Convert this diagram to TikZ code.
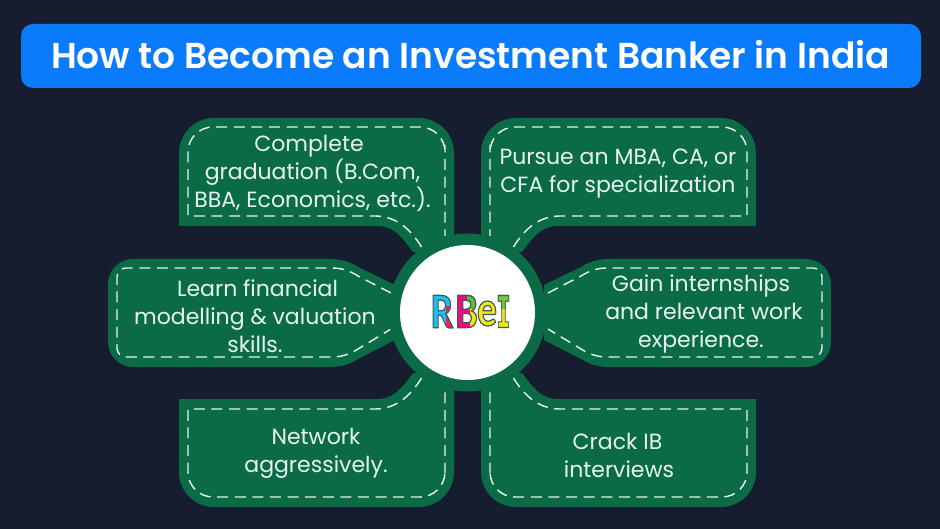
\documentclass[tikz,border=0pt]{standalone}
\usepackage{fontspec}
\setmainfont{Poppins}
\newfontface\titleface{Poppins SemiBold}
\newfontface\logoface{Carlito Bold}[FakeBold=2.5]
\newfontface\logoserif{DejaVu Sans Mono Bold}[FakeBold=2.5]
\definecolor{bgc}{HTML}{161D2F}
\definecolor{titlec}{HTML}{0A7BFA}
\definecolor{greenc}{HTML}{0B6B47}
\definecolor{mint}{HTML}{E6F5EE}
\tikzset{
  x=1pt,y=-1pt,
  blob/.style={fill=greenc,draw=none},
  stitch/.style={draw=mint,line width=1.4pt,dash pattern=on 11pt off 6.6pt},
  label/.style={text=mint,font=\fontsize{22}{28}\selectfont,align=center,inner sep=0pt},
  logotext/.style={font=\logoface\fontsize{50}{50}\selectfont,inner sep=0pt,xscale=.8,transform shape},
  logoserif/.style={font=\logoserif\fontsize{44}{44}\selectfont,inner sep=0pt,xscale=.55,transform shape},
}
% outlined letter: fill colour (rgb), dark stroke
\newcommand{\Glyph}[2]{\special{pdf:bcolor [#1] [0.25 0.35 0.33]}#2\special{pdf:ecolor}}
\newcommand{\TopShape}{%
  \path[blob,rounded corners=35pt] (179,226) [sharp corners] -- (179,190) [rounded corners=35pt] -- (179,118) -- (454,118) -- (454,190) [sharp corners] -- (454,252) -- (413,252) .. controls (400,234) and (392,226) .. (377,226) -- cycle;
  \path[stitch] (421.5,247) .. controls (410,228) and (395,216) .. (375,216) -- (188,216) -- (188,170) [rounded corners=25pt] -- (188,127) -- (445,127) -- (445,170) [sharp corners] -- (445,236);
}
\newcommand{\BottomShape}{%
  \path[blob] (179,399) -- (377,399) .. controls (392,399) and (400,391) .. (413,373) -- (454,373) -- (454,440) [rounded corners=35pt] -- (454,507) -- (179,507) -- (179,440) [sharp corners] -- cycle;
  \path[stitch] (421.5,378) .. controls (410,397) and (395,409) .. (375,409) -- (188,409) -- (188,450) [rounded corners=25pt] -- (188,497) -- (445,497) -- (445,450) [sharp corners] -- (445,390);
}
\newcommand{\MidShape}{%
  \path[blob] (395,285) -- (358,267) .. controls (350,262) and (342,259) .. (330,259) -- (180,259) [rounded corners=25pt] -- (108,259) -- (108,367) -- (180,367) [sharp corners] -- (330,367) .. controls (342,367) and (350,364) .. (358,359) -- (395,340) -- cycle;
  \path[stitch] (391,293) -- (358,276) .. controls (350,271) and (342,268) .. (332,268) -- (180,268) [rounded corners=9pt] -- (117,268) -- (117,357) -- (180,357) [sharp corners] -- (332,357) .. controls (342,357) and (350,354) .. (358,349) -- (391,329);
}
\begin{document}
\begin{tikzpicture}
\useasboundingbox (0,0) rectangle (940,529);
\fill[bgc] (0,0) rectangle (940,529);
\fill[titlec,rounded corners=12pt] (21,24) rectangle (921,88);
\node[text=white,font=\titleface\fontsize{36}{40}\selectfont,inner sep=0pt] (title) at (470.5,55) {How to Become an Investment Banker in India};

\TopShape
\BottomShape
\MidShape
\begin{scope}[shift={(935,0)},xscale=-1]
\TopShape
\BottomShape
\end{scope}
\begin{scope}[shift={(939,0)},xscale=-1]
\MidShape
\end{scope}

\fill[greenc] (467.5,312.5) circle (79);
\fill[white] (467.5,312.5) circle (67.5);

\node[label] (n1) at (312.5,173) {Complete\hspace{7pt}\mbox{}\\graduation (B.Com,\\BBA, Economics, etc.).};
\node[label] (n2) at (618,174) {Pursue an MBA, CA, or\\CFA for specialization};
\node[label] (n3) at (255,316) {\hspace{5pt}Learn financial\\modelling \& valuation\\skills.};
\node[label] (n4) at (704,313.5) {Gain internships\hspace{6pt}\mbox{}\\and relevant work\\experience.\hspace{6pt}\mbox{}};
\node[label] (n5) at (316,453) {Network\\aggressively.};
\node[label] (n6) at (619,455) {Crack IB\hspace{3pt}\mbox{}\\interviews};

% logo: one outlined glyph per letter, with colour accents clipped over them
\node[logotext] (logor) at (442,311.5) {\Glyph{0.1 0.75 0.95}{R}};
\node[logotext] (logob) at (466.5,311.5) {\Glyph{0.92 0.05 0.5}{B}};
\node[logotext] (logoe) at (487,313.5) {\Glyph{0.95 0.9 0.1}{e}};
\node[logoserif] (logoi) at (503.5,311.5) {\Glyph{0.95 0.9 0.1}{I}};
\begin{scope}
  \clip (446,307) rectangle (454,335);
  \node[logotext] (logor2) at (442,311.5) {\Glyph{0.9 0.15 0.4}{R}};
\end{scope}
\begin{scope}
  \clip (467,290) rectangle (478,310);
  \node[logotext] (logob2) at (466.5,311.5) {\Glyph{0.35 0.75 0.25}{B}};
\end{scope}
\begin{scope}
  \clip (470,310) rectangle (478,335);
  \node[logotext] (logob3) at (466.5,311.5) {\Glyph{0.95 0.9 0.1}{B}};
\end{scope}
\begin{scope}
  \clip (497,290) rectangle (512,309);
  \node[logoserif] (logoi2) at (503.5,311.5) {\Glyph{0.45 0.78 0.25}{I}};
\end{scope}
\end{tikzpicture}
\end{document}
